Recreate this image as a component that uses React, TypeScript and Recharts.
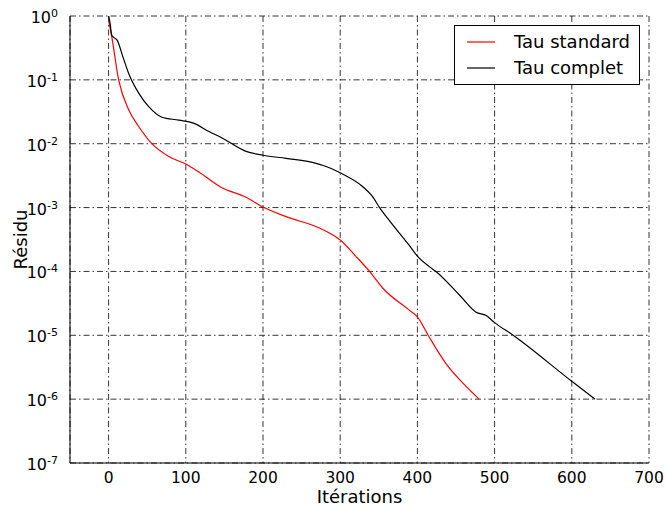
import React from 'react';
import { LineChart, Line, XAxis, YAxis, CartesianGrid, Legend } from 'recharts';

// Tau standard (red)
const standardIter = [0, 4, 13, 26, 39, 56, 78, 100, 117, 145, 178, 200, 230, 273, 286, 300, 320, 338, 355, 389, 400, 415, 437, 459, 480];
const standardRes = [0.85, 0.48, 0.1, 0.034, 0.0186, 0.01, 0.0063, 0.0048, 0.0036, 0.0021, 0.00145, 0.00102, 7.2e-4, 4.8e-4, 4.0e-4, 3.1e-4, 1.74e-4, 1.0e-4, 5.5e-5, 2.5e-5, 1.95e-5, 9.5e-6, 3.6e-6, 1.78e-6, 1.0e-6];

// Tau complet (black)
const completIter = [0, 2, 4, 8, 11, 18, 26, 39, 52, 69, 91, 110, 130, 147, 178, 200, 230, 264, 286, 300, 329, 342, 351, 364, 389, 400, 415, 424, 455, 476, 489, 500, 524, 600, 630];
const completRes = [1.0, 0.76, 0.5, 0.45, 0.42, 0.24, 0.126, 0.062, 0.038, 0.026, 0.0234, 0.021, 0.0155, 0.0123, 0.0076, 0.0066, 0.0059, 0.0051, 0.0042, 0.0035, 0.00214, 0.00148, 0.001, 6.2e-4, 2.6e-4, 1.74e-4, 1.2e-4, 1.0e-4, 4.2e-5, 2.3e-5, 2.04e-5, 1.58e-5, 1.0e-5, 1.9e-6, 1.0e-6];

const seriesNames = ['Tau standard', 'Tau complet'];
const xTicks = [0, 100, 200, 300, 400, 500, 600, 700];
const yTicks = [1e-7, 1e-6, 1e-5, 1e-4, 1e-3, 1e-2, 1e-1, 1];
const yMinorTicks = yTicks.slice(0, -1).flatMap(d => [2, 3, 4, 5, 6, 7, 8, 9].map(k => k * d));

const standardData = standardIter.map((it, i) => ({ it, res: standardRes[i] }));
const completData = completIter.map((it, i) => ({ it, res: completRes[i] }));

const FONT = 'DejaVu Sans';
const MAJOR = 5;
const MINOR = 3;

const LogTick = (props: any) => {
  const { x, y, payload } = props;
  const exp = Math.round(Math.log10(payload.value));
  return (
    <text x={x} y={y} textAnchor="end" fill="#000" fontFamily={FONT} fontSize={16}>
      <tspan dy={7}>10</tspan>
      <tspan dy={-6} fontSize={11}>{exp}</tspan>
    </text>
  );
};

const YTitle = (props: any) => {
  const { x, y, height } = props.viewBox;
  const cx = x + 12;
  const cy = y + height / 2;
  return (
    <text x={cx} y={cy} transform={`rotate(-90, ${cx}, ${cy})`} textAnchor="middle" dominantBaseline="central"
      fill="#000" fontFamily={FONT} fontSize={18}>Résidu</text>
  );
};

const XTitle = (props: any) => {
  const { x, y, width } = props.viewBox;
  return (
    <text x={x + width / 2} y={y + 39.5} textAnchor="middle" fill="#000" fontFamily={FONT} fontSize={18}>Itérations</text>
  );
};

const LegendBox = (props: any) => {
  const items = [...(props.payload || [])].sort((a: any, b: any) => seriesNames.indexOf(a.value) - seriesNames.indexOf(b.value));
  return (
    <div style={{ width: 186, height: 60, border: '1px solid #000', background: '#fff', boxSizing: 'border-box', position: 'relative', fontFamily: FONT, fontSize: 18 }}>
      {items.map((item: any, i: number) => (
        <div key={item.value} style={{ position: 'absolute', left: 0, top: 3 + i * 26, height: 26, width: 186 }}>
          <svg width={50} height={26} style={{ position: 'absolute', left: 0, top: 0 }}>
            <line x1={12} x2={40} y1={13} y2={13} stroke={item.color} strokeWidth={1.2} />
          </svg>
          <span style={{ position: 'absolute', left: 59, top: 0, lineHeight: '26px', color: '#000', whiteSpace: 'nowrap' }}>{item.value}</span>
        </div>
      ))}
    </div>
  );
};

export default function App() {
  return (
    <div style={{ position: 'absolute', left: 0, top: 0, width: 666, height: 507, background: '#fff' }}>
      <LineChart width={666} height={507} margin={{ top: 16, right: 17, bottom: 14, left: 8 }}>
        <CartesianGrid stroke="#000" strokeWidth={0.8} strokeDasharray="6 3 1.5 3" />
        <XAxis type="number" dataKey="it" domain={[-50, 700]} ticks={xTicks} allowDataOverflow interval={0}
          tickLine={false} axisLine={{ stroke: '#000' }} tick={{ fill: '#000', fontSize: 15.5, fontFamily: FONT }}
          tickMargin={3} height={30} label={<XTitle />} />
        <XAxis xAxisId="bt" type="number" mirror domain={[-50, 700]} ticks={xTicks} allowDataOverflow interval={0}
          tick={false} axisLine={false} tickLine={{ stroke: '#000' }} tickSize={MAJOR} height={0} />
        <XAxis xAxisId="tp" orientation="top" type="number" mirror domain={[-50, 700]} ticks={xTicks} allowDataOverflow interval={0}
          tick={false} axisLine={{ stroke: '#000' }} tickLine={{ stroke: '#000' }} tickSize={MAJOR} height={0} />
        <YAxis type="number" scale="log" domain={[1e-7, 1]} ticks={yTicks} allowDataOverflow interval={0}
          tickLine={false} axisLine={{ stroke: '#000' }} tick={<LogTick />} tickMargin={6} width={62} label={<YTitle />} />
        <YAxis yAxisId="lmaj" type="number" scale="log" mirror domain={[1e-7, 1]} ticks={yTicks} allowDataOverflow interval={0}
          tick={false} axisLine={false} tickLine={{ stroke: '#000' }} tickSize={MAJOR} width={0} />
        <YAxis yAxisId="lmin" type="number" scale="log" mirror domain={[1e-7, 1]} ticks={yMinorTicks} allowDataOverflow interval={0}
          tick={false} axisLine={false} tickLine={{ stroke: '#000' }} tickSize={MINOR} width={0} />
        <YAxis yAxisId="rmaj" orientation="right" type="number" scale="log" mirror domain={[1e-7, 1]} ticks={yTicks} allowDataOverflow interval={0}
          tick={false} axisLine={{ stroke: '#000' }} tickLine={{ stroke: '#000' }} tickSize={MAJOR} width={0} />
        <YAxis yAxisId="rmin" orientation="right" type="number" scale="log" mirror domain={[1e-7, 1]} ticks={yMinorTicks} allowDataOverflow interval={0}
          tick={false} axisLine={false} tickLine={{ stroke: '#000' }} tickSize={MINOR} width={0} />
        <Legend layout="horizontal" verticalAlign="middle" align="center" content={<LegendBox />}
          wrapperStyle={{ left: 454, top: 25, width: 186, height: 60 }} />
        <Line data={standardData} dataKey="res" name={seriesNames[0]} type="monotone" stroke="#ff0000" strokeWidth={1.2}
          dot={false} activeDot={false} isAnimationActive={false} />
        <Line data={completData} dataKey="res" name={seriesNames[1]} type="monotone" stroke="#000000" strokeWidth={1.2}
          dot={false} activeDot={false} isAnimationActive={false} />
      </LineChart>
    </div>
  );
}
